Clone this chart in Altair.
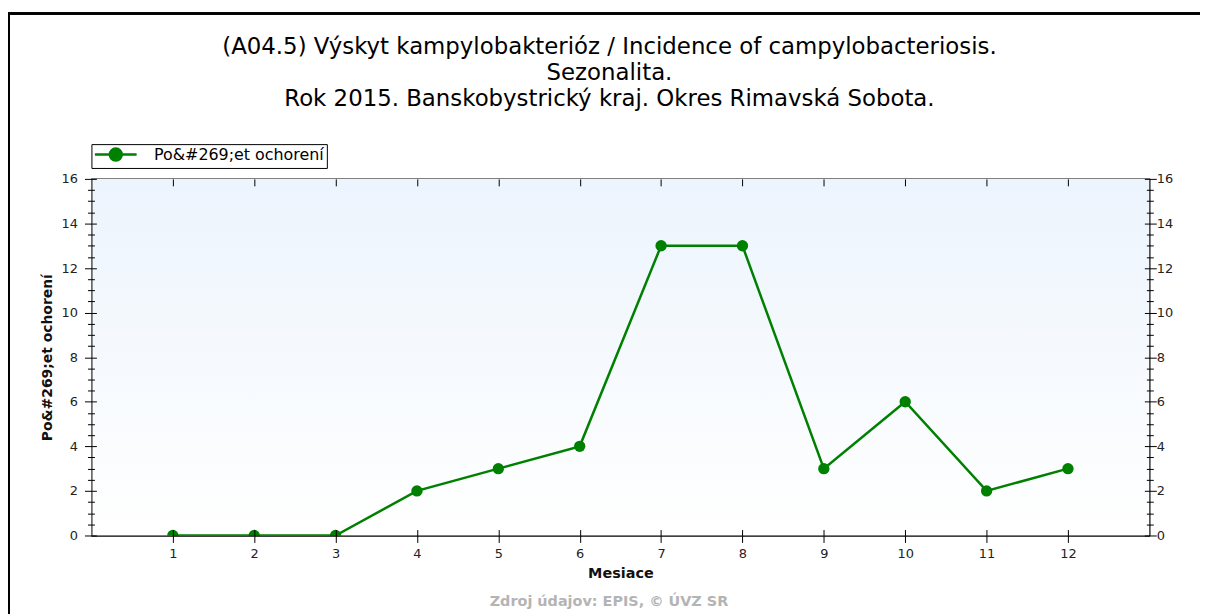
import altair as alt
import pandas as pd

months = [1, 2, 3, 4, 5, 6, 7, 8, 9, 10, 11, 12]
cases = [0, 0, 0, 2, 3, 4, 13, 13, 3, 6, 2, 3]
series_name = "Po&#269;et ochorení"
title_lines = [
    "(A04.5) Výskyt kampylobakterióz / Incidence of campylobacteriosis.",
    "Sezonalita.",
    "Rok 2015. Banskobystrický kraj. Okres Rimavská Sobota.",
]
x_title = "Mesiace"
footer = "Zdroj údajov: EPIS, © ÚVZ SR"
y_major = [0, 2, 4, 6, 8, 10, 12, 14, 16]
y_minor = [v / 2 for v in range(0, 33) if v % 4 != 0]

GREEN = "#008000"
FONT = "DejaVu Sans"
W, H = 1065, 359

df = pd.DataFrame({"month": months, "value": cases, "series": [series_name] * len(months)})

xs = alt.Scale(domain=[0, 13], nice=False, zero=False)
ys = alt.Scale(domain=[0, 16], nice=False)

def ax(**kw):
    base = dict(grid=False, domainColor="black", tickColor="black", labelFont=FONT,
                labelFontSize=13, labelColor="#222222", titleFont=FONT, zindex=2)
    base.update(kw)
    return alt.Axis(**base)

def guide_layer(xaxis, yaxis):
    return alt.Chart(df).mark_point(opacity=0).encode(
        x=alt.X("month:Q", scale=xs, axis=xaxis),
        y=alt.Y("value:Q", scale=ys, axis=yaxis),
    )

bg = alt.Chart(df).mark_rect(
    fill=alt.Gradient(gradient="linear", x1=0, x2=0, y1=0, y2=1,
                      stops=[alt.GradientStop(color="#ecf4fd", offset=0),
                             alt.GradientStop(color="#ffffff", offset=1)])
).encode(
    x=alt.X(datum=0, scale=xs, axis=None), x2=alt.datum(13),
    y=alt.Y(datum=16, scale=ys, axis=None), y2=alt.datum(0),
)

# axes
A = guide_layer(
    ax(orient="bottom", values=months, ticks=False, tickSize=0, labelPadding=12, domain=True,
       title=x_title, titleFontSize=14.5, titleFontWeight="bold", titlePadding=6, titleColor="#111"),
    ax(orient="left", values=y_major, ticks=False, tickSize=0, labelPadding=14, domain=True,
       title=series_name, titleFontSize=14, titleFontWeight="bold", titlePadding=7, titleColor="#111"),
)
B = guide_layer(
    ax(orient="bottom", values=months, tickSize=13, offset=-6, domain=False, labels=False, title=None),
    ax(orient="left", values=y_major, tickSize=12, offset=-5, domain=False, labels=False, title=None),
)
C = guide_layer(
    ax(orient="top", values=months, tickSize=7, offset=-7, domain=False, labels=False, title=None),
    ax(orient="left", values=y_minor, tickSize=7, offset=-3, domain=False, labels=False, title=None),
)
D = guide_layer(
    None,
    ax(orient="right", values=y_major, ticks=False, tickSize=0, labelPadding=7, domain=True, title=None),
)
E = guide_layer(
    None,
    ax(orient="right", values=y_major, tickSize=12, offset=-5, domain=False, labels=False, title=None),
)
F = guide_layer(
    None,
    ax(orient="right", values=y_minor, tickSize=7, offset=-3, domain=False, labels=False, title=None),
)

legend = alt.Legend(
    title=None, orient="none", legendX=0, legendY=-35,
    symbolType="M-3,0H3M0.86,0A0.86,0.86,0,1,1,-0.86,0A0.86,0.86,0,1,1,0.86,0Z",
    symbolSize=196, symbolStrokeWidth=2.5, symbolFillColor=GREEN, symbolStrokeColor=GREEN,
    symbolOffset=14, labelOffset=30, labelFont=FONT, labelFontSize=16, labelColor="black",
    labelLimit=400, strokeColor="black", fillColor="white", padding=2, cornerRadius=0,
)

line = alt.Chart(df).mark_line(strokeWidth=2.5, clip=True).encode(
    x=alt.X("month:Q", scale=xs, axis=None),
    y=alt.Y("value:Q", scale=ys, axis=None),
    color=alt.Color("series:N", scale=alt.Scale(domain=[series_name], range=[GREEN]), legend=legend),
)
pts = alt.Chart(df).mark_circle(size=130, opacity=1, clip=True, color=GREEN).encode(
    x=alt.X("month:Q", scale=xs, axis=None),
    y=alt.Y("value:Q", scale=ys, axis=None),
)

frame = alt.Chart(df).mark_rect(fill=None, stroke="black", strokeWidth=1.6).encode(
    x=alt.value(-83.5), x2=alt.value(1140), y=alt.value(-166.5), y2=alt.value(500)
)
foot = alt.Chart(pd.DataFrame({"t": [footer]})).mark_text(
    font=FONT, fontSize=14.5, fontWeight="bold", color="#b4b4b4", align="center", baseline="middle"
).encode(text="t:N", x=alt.value(521), y=alt.value(426))

chart = alt.layer(bg, A, B, C, D, E, F, line, pts, frame, foot).resolve_axis(
    x="independent", y="independent"
).properties(
    width=W, height=H,
    padding={"left": 84, "top": 170, "right": 51, "bottom": 77},
    autosize=alt.AutoSizeParams(type="none"),
    title=alt.TitleParams(text=title_lines, font=FONT, fontSize=23, fontWeight="normal",
                          color="black", anchor="middle", lineHeight=26, offset=-99,
                          frame="group", dx=-11),
).configure_view(stroke="black", strokeWidth=1.2)

chart.save("out.html", embed_options={"renderer": "svg", "actions": False})
